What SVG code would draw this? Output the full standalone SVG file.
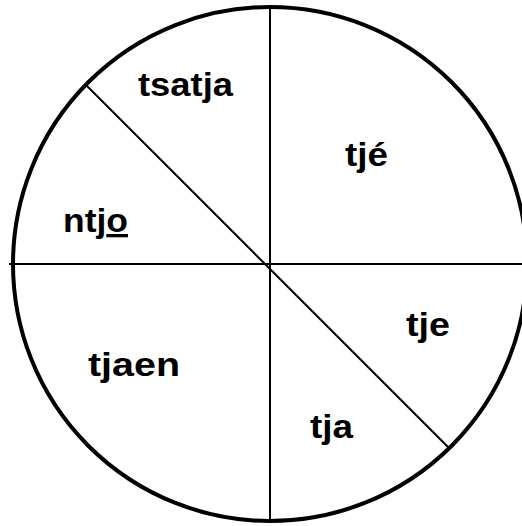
<svg xmlns="http://www.w3.org/2000/svg" width="522" height="526" viewBox="0 0 522 526">
<style>
.ln{stroke:#000;stroke-width:2;fill:none}
.lb{font-family:"Liberation Sans",Arial,sans-serif;font-weight:bold;font-size:33px;fill:#000}
</style>
<rect width="522" height="526" fill="#fff"/>
<g id="connectors">
<line class="ln" x1="270" y1="8" x2="270" y2="523"/>
<line class="ln" x1="9" y1="264" x2="522" y2="264"/>
<line class="ln" x1="87" y1="86" x2="449" y2="448"/>
</g>
<g id="wheel"><circle cx="270" cy="264" r="257" fill="none" stroke="#000" stroke-width="4"/></g>
<g id="tsatja"><text class="lb" x="138" y="96" textLength="95" lengthAdjust="spacingAndGlyphs">tsatja</text></g>
<g id="tje-acute"><text class="lb" x="345" y="166" textLength="43" lengthAdjust="spacingAndGlyphs">tjé</text></g>
<g id="ntjo"><text class="lb" x="63" y="232" textLength="65" lengthAdjust="spacingAndGlyphs">ntj<tspan style="text-decoration:underline">o</tspan></text></g>
<g id="tje"><text class="lb" x="406" y="336" textLength="44" lengthAdjust="spacingAndGlyphs">tje</text></g>
<g id="tjaen"><text class="lb" x="88" y="376" textLength="92" lengthAdjust="spacingAndGlyphs">tjaen</text></g>
<g id="tja"><text class="lb" x="310" y="438" textLength="43" lengthAdjust="spacingAndGlyphs">tja</text></g>
</svg>
